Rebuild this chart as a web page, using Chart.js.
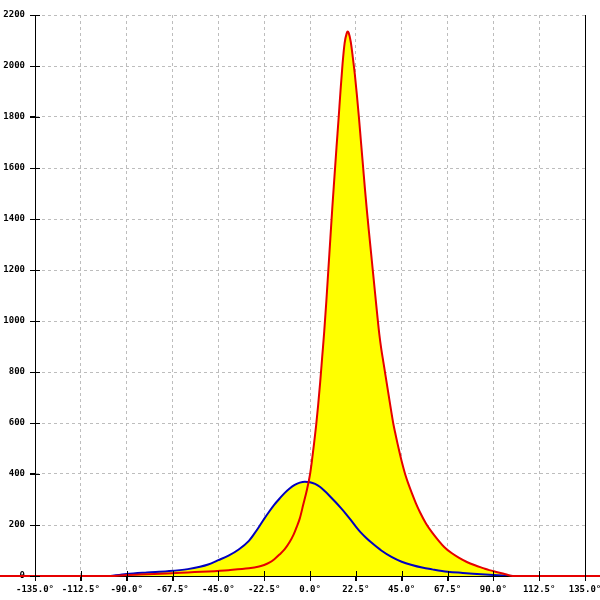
<!DOCTYPE html>
<html>
<head>
  <meta charset="utf-8">
  <title>Angular distribution</title>
  <style>
    html, body { margin: 0; padding: 0; background: #fff; }
    #wrap { width: 600px; height: 600px; }
  </style>
</head>
<body>
  <div id="wrap"><canvas id="chart" width="600" height="600"></canvas></div>

  <script src="https://cdn.jsdelivr.net/npm/chart.js@4/dist/chart.umd.min.js"></script>
  <script>
    // red curve (filled yellow) - angle in degrees / value
    var redAngles = [-160, -98, -90, -80, -70, -60, -50, -40, -30, -25, -22.5, -20, -17.5, -15, -12.5, -10, -8, -6.5, -5, -3.3, -1.5, 0, 1, 2, 3, 4, 5, 6, 7, 8, 9, 10, 11, 12, 13, 14, 15, 16, 17, 18, 18.5, 19, 20, 21, 22, 23, 24, 25, 26, 27, 28, 29, 30, 31, 32, 33, 34, 35, 36, 37, 38, 39, 40, 41, 42, 43, 44, 45, 46, 47, 48, 50, 52, 54, 57, 60, 63, 66, 69.5, 73, 77, 81, 85, 88, 92, 96, 99.5, 150];
    var redValues = [0, 0, 4, 7, 10, 14, 18, 23, 30, 37, 43, 52, 66, 84, 104, 133, 163, 193, 226, 280, 338, 398, 455, 520, 590, 670, 760, 860, 960, 1075, 1200, 1325, 1450, 1565, 1680, 1790, 1905, 2010, 2090, 2128, 2135, 2130, 2095, 2035, 1968, 1888, 1800, 1705, 1610, 1515, 1427, 1345, 1265, 1185, 1105, 1025, 950, 890, 840, 790, 740, 690, 640, 593, 555, 518, 483, 450, 420, 392, 368, 325, 285, 250, 205, 170, 140, 113, 90, 72, 55, 42, 31, 23, 15, 7, 0, 0];

    // blue curve
    var blueAngles = [-98, -90, -80, -70, -60, -54, -50, -45, -40, -35, -30, -27.5, -25, -22.5, -20, -17.5, -15, -12.5, -10, -7.5, -5, -2.5, 0, 2.5, 5, 7.5, 10, 12.5, 15, 17.5, 20, 22.5, 25, 27.5, 30, 35, 40, 45, 50, 55, 60, 67.5, 75, 80, 90, 100];
    var blueValues = [0, 8, 14, 19, 27, 36, 45, 62, 80, 104, 138, 164, 193, 224, 253, 280, 303, 325, 343, 357, 366, 370, 368, 361, 349, 331, 311, 290, 268, 245, 220, 194, 170, 150, 132, 100, 75, 56, 43, 33, 26, 17, 12, 9, 4, 0];

    var xMin = -135, xMax = 135, xStep = 22.5;
    var yMin = 0, yMax = 2200, yStep = 200;

    function toPoints(xs, ys) {
      return xs.map(function (x, i) { return { x: x, y: ys[i] }; });
    }

    // ticks crossing the axes (Chart.js only draws them outside)
    var innerTicks = {
      id: 'innerTicks',
      afterDatasetsDraw: function (chart) {
        var ctx = chart.ctx, area = chart.chartArea;
        var sx = chart.scales.x, sy = chart.scales.y;
        ctx.save();
        ctx.strokeStyle = '#000';
        ctx.lineWidth = 1;
        sx.ticks.forEach(function (t, i) {
          var px = Math.round(sx.getPixelForTick(i)) + 0.5;
          ctx.beginPath();
          ctx.moveTo(px, area.bottom + 5);
          ctx.lineTo(px, area.bottom - 5);
          ctx.stroke();
        });
        sy.ticks.forEach(function (t, i) {
          var py = Math.round(sy.getPixelForTick(i)) + 0.5;
          ctx.beginPath();
          ctx.moveTo(area.left - 5, py);
          ctx.lineTo(area.left + 5, py);
          ctx.stroke();
        });
        ctx.restore();
      }
    };

    var font = { family: "'DejaVu Sans Mono', monospace", size: 9, weight: 'bold' };

    var ctx = document.getElementById('chart').getContext('2d');
    var chart = new Chart(ctx, {
      type: 'line',
      data: {
        datasets: [{
          data: toPoints(redAngles, redValues),
          borderColor: '#e60000',
          borderWidth: 2,
          backgroundColor: '#ffff00',
          fill: 'origin',
          pointRadius: 0,
          cubicInterpolationMode: 'monotone',
          clip: false
        }, {
          data: toPoints(blueAngles, blueValues),
          borderColor: '#0000c0',
          borderWidth: 2,
          backgroundColor: '#ffff00',
          fill: 'origin',
          pointRadius: 0,
          cubicInterpolationMode: 'monotone'
        }]
      },
      options: {
        responsive: false,
        animation: false,
        layout: { padding: { top: 15 } },
        plugins: {
          legend: { display: false },
          tooltip: { enabled: false },
          filler: { drawTime: 'beforeDatasetsDraw' }
        },
        scales: {
          x: {
            type: 'linear',
            min: xMin,
            max: xMax,
            afterFit: function (s) { s.height = 24; s.paddingLeft = 0; s.paddingRight = 0; },
            ticks: {
              stepSize: xStep,
              color: '#000',
              font: font,
              padding: 3,
              maxRotation: 0,
              autoSkip: false,
              callback: function (v) { return v.toFixed(1) + '°'; }
            },
            grid: { color: '#bdbdbd', tickColor: '#000', tickLength: 5 },
            border: { color: '#000', width: 1, dash: [3, 3] }
          },
          y: {
            min: yMin,
            max: yMax,
            afterFit: function (s) { s.width = 35; s.paddingTop = 0; s.paddingBottom = 0; },
            ticks: {
              stepSize: yStep,
              color: '#000',
              font: font,
              padding: 5,
              callback: function (v) { return String(v); }
            },
            grid: { color: '#bdbdbd', tickColor: '#000', tickLength: 5 },
            border: { color: '#000', width: 1, dash: [3, 3] }
          },
          y2: {
            position: 'right',
            min: yMin,
            max: yMax,
            afterFit: function (s) { s.width = 15; },
            ticks: { display: false },
            grid: { display: false, drawTicks: false },
            border: { color: '#000', width: 1 }
          }
        }
      },
      plugins: [innerTicks]
    });
  </script>
</body>
</html>
